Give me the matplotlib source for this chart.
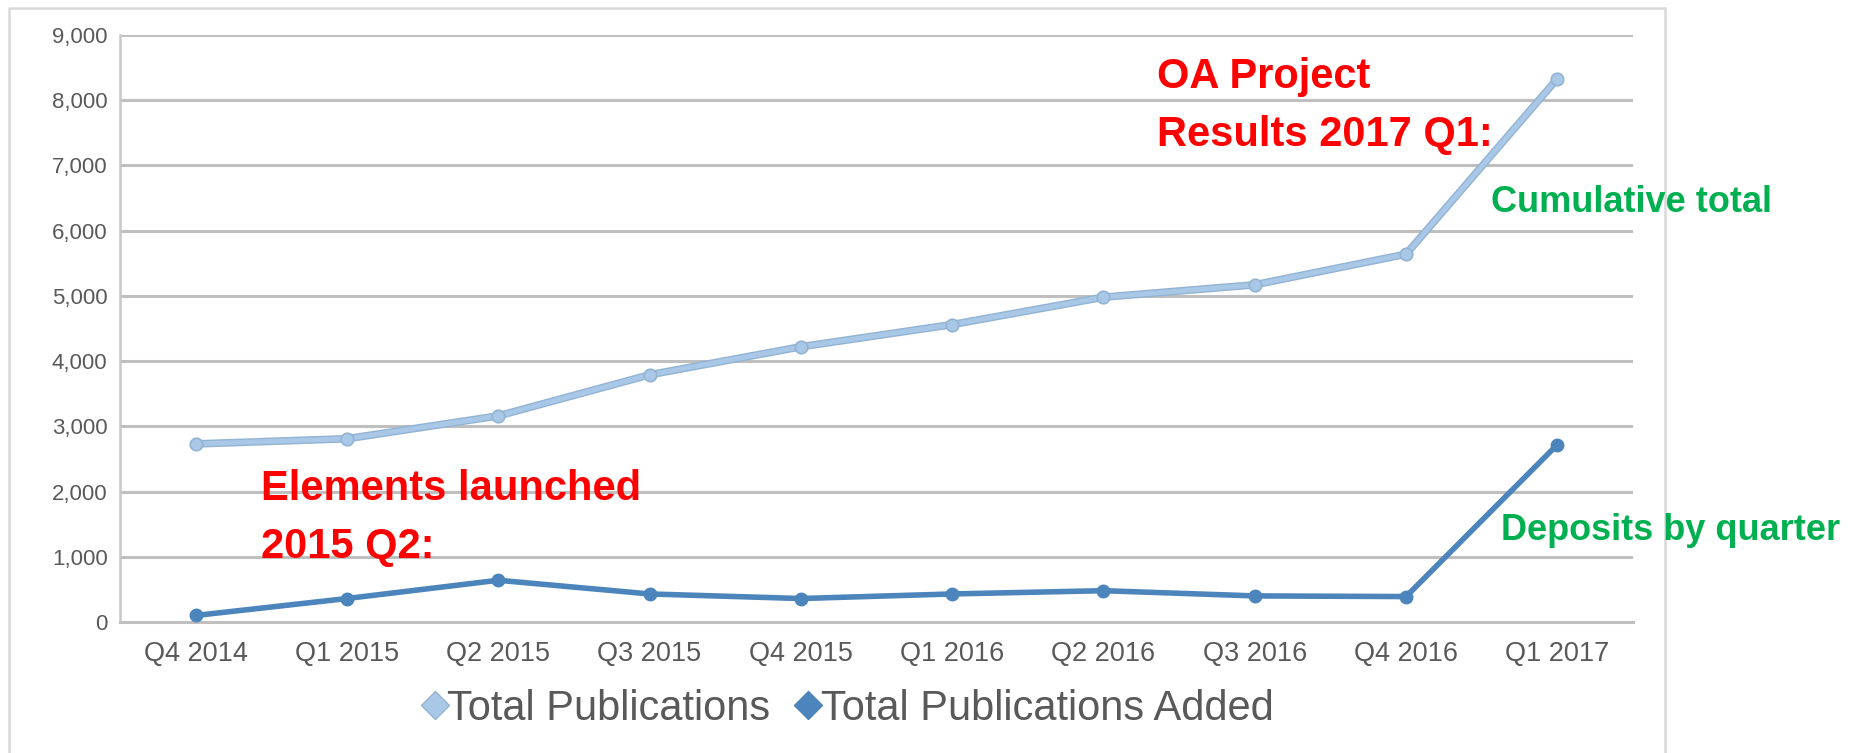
import matplotlib
matplotlib.use("Agg")
import matplotlib.pyplot as plt
from matplotlib import font_manager as fm
from matplotlib.lines import Line2D

quarters = ["Q4 2014", "Q1 2015", "Q2 2015", "Q3 2015", "Q4 2015",
            "Q1 2016", "Q2 2016", "Q3 2016", "Q4 2016", "Q1 2017"]
total_pubs = [2730, 2810, 3160, 3790, 4220, 4560, 4980, 5170, 5640, 8330]
pubs_added = [100, 360, 640, 430, 360, 430, 480, 400, 390, 2720]
y_ticks = [0, 1000, 2000, 3000, 4000, 5000, 6000, 7000, 8000, 9000]

names = {f.name for f in fm.fontManager.ttflist}
narrow = "Liberation Sans Narrow" if "Liberation Sans Narrow" in names else "Liberation Sans"
plt.rcParams["font.family"] = [narrow, "DejaVu Sans"]

light = "#A9C8E8"
light_edge = "#93B3D3"
dark = "#4C84BC"
grey_txt = "#595959"

fig = plt.figure(figsize=(18.57, 7.53), dpi=100)
ax = fig.add_axes([120 / 1857, 1 - 622 / 753, (1633 - 120) / 1857, (622 - 35) / 753])

x = list(range(len(quarters)))
ax.plot(x, total_pubs, color=light_edge, lw=5.5, solid_capstyle="round", zorder=3)
ax.plot(x, total_pubs, color=light, lw=3.5, marker="o", ms=9, mfc=light,
        mec=light_edge, mew=1.2, label="Total Publications", zorder=4)
ax.plot(x, pubs_added, color=dark, lw=4, marker="o", ms=9, mfc=dark, mec=dark,
        label="Total Publications Added", zorder=4)

ax.set_xlim(-0.5, len(quarters) - 0.5)
ax.set_ylim(0, 9000)
ax.set_yticks(y_ticks)
ax.set_yticklabels([f"{v:,}" for v in y_ticks])
ax.set_xticks(x)
ax.set_xticklabels(quarters)
ax.tick_params(axis="y", length=0, pad=9, labelsize=16, labelcolor=grey_txt)
ax.tick_params(axis="x", length=0, pad=14, labelsize=19.5, labelcolor=grey_txt)
ax.grid(axis="y", color="#BFBFBF", lw=2.2)
ax.set_axisbelow(True)
for s in ["top", "right"]:
    ax.spines[s].set_visible(False)
ax.spines["left"].set_color("#C8C8C8")
ax.spines["left"].set_linewidth(1.8)
ax.spines["bottom"].set_color("#BFBFBF")
ax.spines["bottom"].set_linewidth(2.2)

handles = [Line2D([], [], ls="none", marker="D", ms=14, mfc=light, mec=light_edge),
           Line2D([], [], ls="none", marker="D", ms=14, mfc=dark, mec=dark)]
fig.legend(handles, ["Total Publications", "Total Publications Added"],
           loc="center", bbox_to_anchor=(850 / 1857, 1 - 709 / 753), ncol=2,
           frameon=False, fontsize=30, labelcolor=grey_txt, handlelength=0.4,
           handletextpad=0.1, columnspacing=0.7)

# outer chart frame (cut off at the bottom)
fx0, fx1, fy1 = 9 / 1857, 1665 / 1857, 1 - 8 / 753
fig.add_artist(Line2D([fx0, fx0, fx1, fx1], [0, fy1, fy1, 0], color="#D9D9D9",
                      lw=1.8, transform=fig.transFigure))

red = "#FF0000"
green = "#00B050"
fig.text(261 / 1857, 1 - 500 / 753, "Elements launched", color=red, fontsize=30,
         fontweight="bold", va="baseline")
fig.text(261 / 1857, 1 - 558 / 753, "2015 Q2:", color=red, fontsize=30,
         fontweight="bold", va="baseline")
fig.text(1157 / 1857, 1 - 88 / 753, "OA Project", color=red, fontsize=30,
         fontweight="bold", va="baseline")
fig.text(1157 / 1857, 1 - 146 / 753, "Results 2017 Q1:", color=red, fontsize=30,
         fontweight="bold", va="baseline")
fig.text(1491 / 1857, 1 - 212 / 753, "Cumulative total", color=green, fontsize=26,
         fontweight="bold", va="baseline")
fig.text(1501 / 1857, 1 - 540 / 753, "Deposits by quarter", color=green, fontsize=26,
         fontweight="bold", va="baseline")

fig.savefig("out.png", dpi=100)
